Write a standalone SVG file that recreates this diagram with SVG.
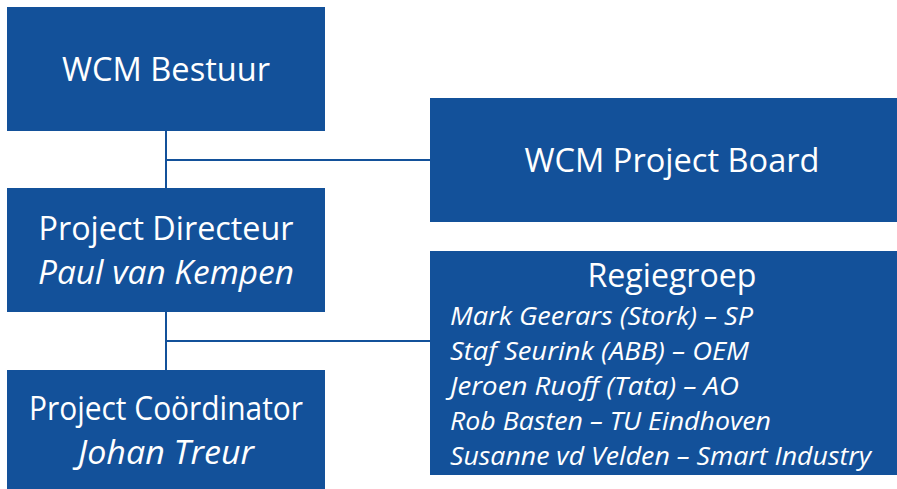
<svg xmlns="http://www.w3.org/2000/svg" width="897" height="489" viewBox="0 0 897 489">
<style>
.box{fill:#13519a}
.t{fill:#ffffff;font-family:"Open Sans","Noto Sans",sans-serif;font-size:32px;text-anchor:middle}
.i{font-style:italic}
.m{fill:#ffffff;font-family:"Open Sans","Noto Sans",sans-serif;font-size:26px;font-style:italic}
.c{stroke:#13519a;stroke-width:2;fill:none}
</style>
<rect width="897" height="489" fill="#ffffff"/>
<g id="connectors">
<path class="c" d="M166 130 V188 M166 160 H430 M166 312 V370 M166 341 H430"/>
</g>
<g id="wcm-bestuur">
<rect class="box" x="7" y="7" width="318" height="124"/>
<text class="t" x="166" y="81" textLength="208" lengthAdjust="spacingAndGlyphs">WCM Bestuur</text>
</g>
<g id="wcm-project-board">
<rect class="box" x="430" y="98" width="467" height="124"/>
<text class="t" x="672" y="172" textLength="295" lengthAdjust="spacingAndGlyphs">WCM Project Board</text>
</g>
<g id="project-directeur">
<rect class="box" x="7" y="188" width="318" height="124"/>
<text class="t" x="166" y="240" textLength="255" lengthAdjust="spacingAndGlyphs">Project Directeur</text>
<text class="t i" x="166" y="284" textLength="256" lengthAdjust="spacingAndGlyphs">Paul van Kempen</text>
</g>
<g id="project-coordinator">
<rect class="box" x="7" y="370" width="318" height="119"/>
<text class="t" x="166" y="420" textLength="274" lengthAdjust="spacingAndGlyphs">Project Coördinator</text>
<text class="t i" x="166" y="464" textLength="176" lengthAdjust="spacingAndGlyphs">Johan Treur</text>
</g>
<g id="regiegroep">
<rect class="box" x="430" y="251" width="467" height="224"/>
<text class="t" x="672" y="287" textLength="169" lengthAdjust="spacingAndGlyphs">Regiegroep</text>
<text class="m" x="450" y="325" textLength="303" lengthAdjust="spacingAndGlyphs">Mark Geerars (Stork) – SP</text>
<text class="m" x="450" y="360" textLength="299" lengthAdjust="spacingAndGlyphs">Staf Seurink (ABB) – OEM</text>
<text class="m" x="450" y="395" textLength="289" lengthAdjust="spacingAndGlyphs">Jeroen Ruoff (Tata) – AO</text>
<text class="m" x="450" y="430" textLength="321" lengthAdjust="spacingAndGlyphs">Rob Basten – TU Eindhoven</text>
<text class="m" x="450" y="465" textLength="421" lengthAdjust="spacingAndGlyphs">Susanne vd Velden – Smart Industry</text>
</g>
</svg>
